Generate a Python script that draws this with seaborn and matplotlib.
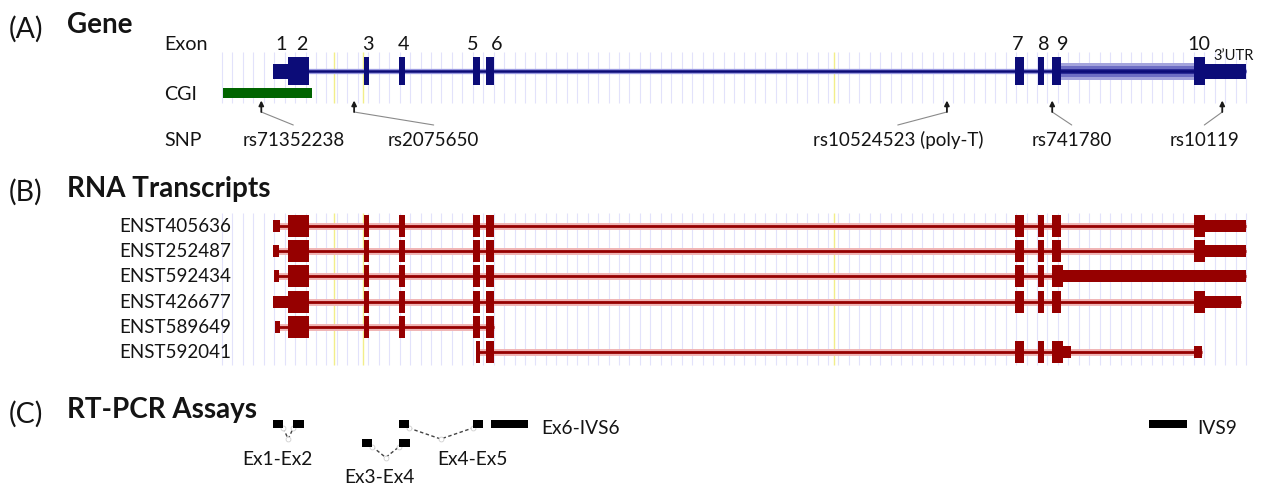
import numpy as np
import pandas as pd
import matplotlib
matplotlib.use("Agg")
import matplotlib.pyplot as plt
import seaborn as sns

# ---------------------------------------------------------------
# Data: positions in kb from the start of exon 1 (TOMM40 locus)
# ---------------------------------------------------------------
exon_labels = ["1", "2", "3", "4", "5", "6", "7", "8", "9", "10"]
exon_label_x = [0.10, 0.37, 1.21, 1.67, 2.56, 2.87, 9.55, 9.88, 10.13, 11.87]

gene_exon_start = [0.00, 0.19, 1.17, 1.62, 2.56, 2.73, 9.51, 9.81, 9.99, 11.81]
gene_exon_end = [0.19, 0.46, 1.23, 1.69, 2.65, 2.83, 9.63, 9.88, 10.10, 11.95]
gene_exon_coding = [0, 1, 1, 1, 1, 1, 1, 1, 1, 1]
gene_utr3 = [11.95, 12.47]
gene_alt_utr = [10.10, 11.81]

cgi_span = [-0.64, 0.50]
highlight_x = [0.78, 1.15, 7.19]

snp_ids = ["rs71352238", "rs2075650", "rs10524523 (poly-T)", "rs741780", "rs10119"]
snp_x = [-0.15, 1.04, 8.64, 9.99, 12.17]
snp_label_x = [0.26, 2.06, 8.01, 10.24, 11.94]

transcripts = ["ENST405636", "ENST252487", "ENST592434",
               "ENST426677", "ENST589649", "ENST592041"]
# blocks: (start, end, coding)
enst405636 = [(0.00, 0.09, 0), (0.19, 0.46, 1), (1.17, 1.23, 1), (1.62, 1.69, 1),
              (2.56, 2.65, 1), (2.73, 2.83, 1), (9.51, 9.63, 1), (9.81, 9.88, 1),
              (9.99, 10.10, 1), (11.81, 11.95, 1), (11.95, 12.47, 0)]
enst252487 = [(0.00, 0.08, 0), (0.19, 0.46, 1), (1.17, 1.23, 1), (1.62, 1.69, 1),
              (2.56, 2.65, 1), (2.73, 2.83, 1), (9.51, 9.63, 1), (9.81, 9.88, 1),
              (9.99, 10.10, 1), (11.81, 11.95, 1), (11.95, 12.48, 0)]
enst592434 = [(0.01, 0.08, 0), (0.19, 0.46, 1), (1.17, 1.23, 1), (1.62, 1.69, 1),
              (2.56, 2.65, 1), (2.73, 2.83, 1), (9.51, 9.63, 1), (9.81, 9.88, 1),
              (9.99, 10.13, 1), (10.13, 12.47, 0)]
enst426677 = [(0.00, 0.19, 0), (0.19, 0.46, 1), (1.17, 1.23, 1), (1.62, 1.69, 1),
              (2.56, 2.65, 1), (2.73, 2.83, 1), (9.51, 9.63, 1), (9.81, 9.88, 1),
              (9.99, 10.10, 1), (11.81, 11.95, 1), (11.95, 12.41, 0)]
enst589649 = [(0.02, 0.09, 0), (0.19, 0.46, 1), (1.17, 1.23, 1), (1.62, 1.69, 1),
              (2.56, 2.65, 1), (2.73, 2.83, 1)]
enst592041 = [(2.60, 2.65, 1), (2.73, 2.83, 1), (9.51, 9.63, 1), (9.81, 9.88, 1),
              (9.99, 10.13, 1), (10.13, 10.23, 0), (11.81, 11.91, 0)]
transcript_blocks = [enst405636, enst252487, enst592434,
                     enst426677, enst589649, enst592041]

assay_names = ["Ex1-Ex2", "Ex3-Ex4", "Ex4-Ex5", "Ex6-IVS6", "IVS9"]
assay_left = [(0.00, 0.13), (1.14, 1.27), (1.62, 1.74), (2.79, 3.27), (11.23, 11.72)]
assay_right = [(0.26, 0.40), (1.62, 1.75), (2.56, 2.69), None, None]
assay_tier = [0, 1, 0, 0, 0]
assay_label_x = [0.05, 1.36, 2.56, 3.44, 11.85]

# ---------------------------------------------------------------
# Layout (pixels of the 1264 x 484 canvas)
# ---------------------------------------------------------------
W, H = 1264, 484
PX_PER_KB = 78.0
PX_ORIGIN = 273.0
WIN = (-0.654, 12.474)

GENE_Y, GENE_TALL, GENE_THIN = 71, 28, 15
CGI_Y, CGI_H = 93, 10
ROW_Y0, ROW_STEP, TX_TALL, TX_THIN = 225.7, 25.3, 22, 12
TIER_Y = [424, 442.5]
PRIMER_H = 8

BLUE = "#0c0c78"
RED = "#960000"
GREEN = "#006400"
GRID = "#e2e2fb"
YELLOW = "#f2ee8a"
TXT = "#141414"

sns.set_theme(style="white")
plt.rcParams["font.family"] = ["Lato", "DejaVu Sans"]

fig = plt.figure(figsize=(W / 100, H / 100), dpi=100)
ax = fig.add_axes([0, 0, 1, 1])
ax.set_xlim(-PX_ORIGIN / PX_PER_KB, (W - PX_ORIGIN) / PX_PER_KB)
ax.set_ylim(H, 0)
ax.axis("off")


def ftext(x, y, s, **kw):
    fig.text(x / W, 1 - y / H, s, color=TXT, va="baseline", **kw)


def block(x0, x1, yc, h, color, z=3, **kw):
    ax.broken_barh([(x0, x1 - x0)], (yc - h / 2, h), facecolor=color,
                   edgecolor="none", linewidth=0, zorder=z, **kw)


# guide lines
grid_x = np.linspace(WIN[0], WIN[1], 99)
ax.vlines(grid_x, 52, 103, color=GRID, lw=0.8, zorder=0)
ax.vlines(grid_x, 213, 365, color=GRID, lw=0.8, zorder=0)
ax.vlines(highlight_x, 52, 103, color=YELLOW, lw=1.0, zorder=0)
ax.vlines(highlight_x, 213, 365, color=YELLOW, lw=1.0, zorder=0)

# ---------------- (A) Gene ----------------
ftext(9, 38, "(A)", fontsize=20.5)
ftext(67, 33, "Gene", fontsize=20, fontweight="bold")
ftext(164, 50, "Exon", fontsize=14.2)
ftext(164, 100, "CGI", fontsize=14.2)
ftext(164, 146, "SNP", fontsize=14.2)

gene_line = pd.DataFrame({"x": [gene_exon_start[0], gene_utr3[1]], "y": [GENE_Y, GENE_Y]})
sns.lineplot(data=gene_line, x="x", y="y", color="#9a9ae0", lw=3.8, ax=ax, zorder=1,
             solid_capstyle="butt")
sns.lineplot(data=gene_line, x="x", y="y", color=BLUE, lw=1.8, ax=ax, zorder=2,
             solid_capstyle="butt")
block(gene_alt_utr[0], gene_alt_utr[1], GENE_Y, 17, "#a4a4dc", z=1.5)
block(gene_alt_utr[0], gene_alt_utr[1], GENE_Y, 11, "#6e6ec4", z=1.6)
block(gene_alt_utr[0], gene_alt_utr[1], GENE_Y, 5, "#2c2c98", z=1.7)
for s, e, c in zip(gene_exon_start, gene_exon_end, gene_exon_coding):
    block(s, e, GENE_Y, GENE_TALL if c else GENE_THIN, BLUE)
block(gene_utr3[0], gene_utr3[1], GENE_Y, GENE_THIN, BLUE)
for lab, x in zip(exon_labels, exon_label_x):
    ax.text(x, 50, lab, fontsize=14.2, ha="center", va="baseline", color=TXT)
ax.text(12.06, 60, "3\u2019UTR", fontsize=10.5, ha="left", va="baseline", color=TXT)

block(cgi_span[0], cgi_span[1], CGI_Y, CGI_H, GREEN)

for sid, x, lx in zip(snp_ids, snp_x, snp_label_x):
    ax.annotate("", xy=(x, 100.5), xytext=(x, 112),
                arrowprops=dict(arrowstyle="-|>", color="k", lw=1.3,
                                mutation_scale=7, shrinkA=0, shrinkB=0))
    ax.plot([x, lx], [112, 125], color="#8a8a8a", lw=0.8)
    ax.text(lx, 146, sid, fontsize=13.5, ha="center", va="baseline", color=TXT)

# ---------------- (B) RNA transcripts ----------------
ftext(9, 201, "(B)", fontsize=20.5)
ftext(67, 197, "RNA Transcripts", fontsize=20, fontweight="bold")

rows = []
for i, (name, blocks) in enumerate(zip(transcripts, transcript_blocks)):
    y = ROW_Y0 + i * ROW_STEP
    rows.append({"transcript": name, "x": blocks[0][0], "y": y})
    rows.append({"transcript": name, "x": blocks[-1][1], "y": y})
tx_lines = pd.DataFrame(rows)
sns.lineplot(data=tx_lines, x="x", y="y", units="transcript", estimator=None,
             color="#f0b4b4", lw=5.0, ax=ax, zorder=1, legend=False,
             solid_capstyle="butt")
sns.lineplot(data=tx_lines, x="x", y="y", units="transcript", estimator=None,
             color=RED, lw=2.0, ax=ax, zorder=2, legend=False,
             solid_capstyle="butt")

for i, (name, blocks) in enumerate(zip(transcripts, transcript_blocks)):
    y = ROW_Y0 + i * ROW_STEP
    for s, e, c in blocks:
        block(s, e, y, TX_TALL if c else TX_THIN, RED)
    ftext(231, y + 6, name, fontsize=13.5, ha="right")

# ---------------- (C) RT-PCR assays ----------------
ftext(9, 423, "(C)", fontsize=20.5)
ftext(67, 418, "RT-PCR Assays", fontsize=20, fontweight="bold")

for name, left, right, tier, lx in zip(assay_names, assay_left, assay_right,
                                       assay_tier, assay_label_x):
    y = TIER_Y[tier]
    block(left[0], left[1], y, PRIMER_H, "black")
    if right is not None:
        block(right[0], right[1], y, PRIMER_H, "black")
        yb = y + PRIMER_H / 2
        mid = (left[1] + right[0]) / 2
        ax.plot([left[1], mid, right[0]], [yb, yb + 11, yb], ls=(0, (2.5, 1.8)),
                color="#444444", lw=1.0, marker="o", ms=3.5, mfc="white",
                mec="#d0d0d0", mew=0.6, zorder=2)
        by = 465 if tier == 0 else 483
        ax.text(lx, by, name, fontsize=13.8, ha="center", va="baseline", color=TXT)
    else:
        ax.text(lx, 434, name, fontsize=13.8, ha="left", va="baseline", color=TXT)

fig.savefig("out.png", dpi=100)
